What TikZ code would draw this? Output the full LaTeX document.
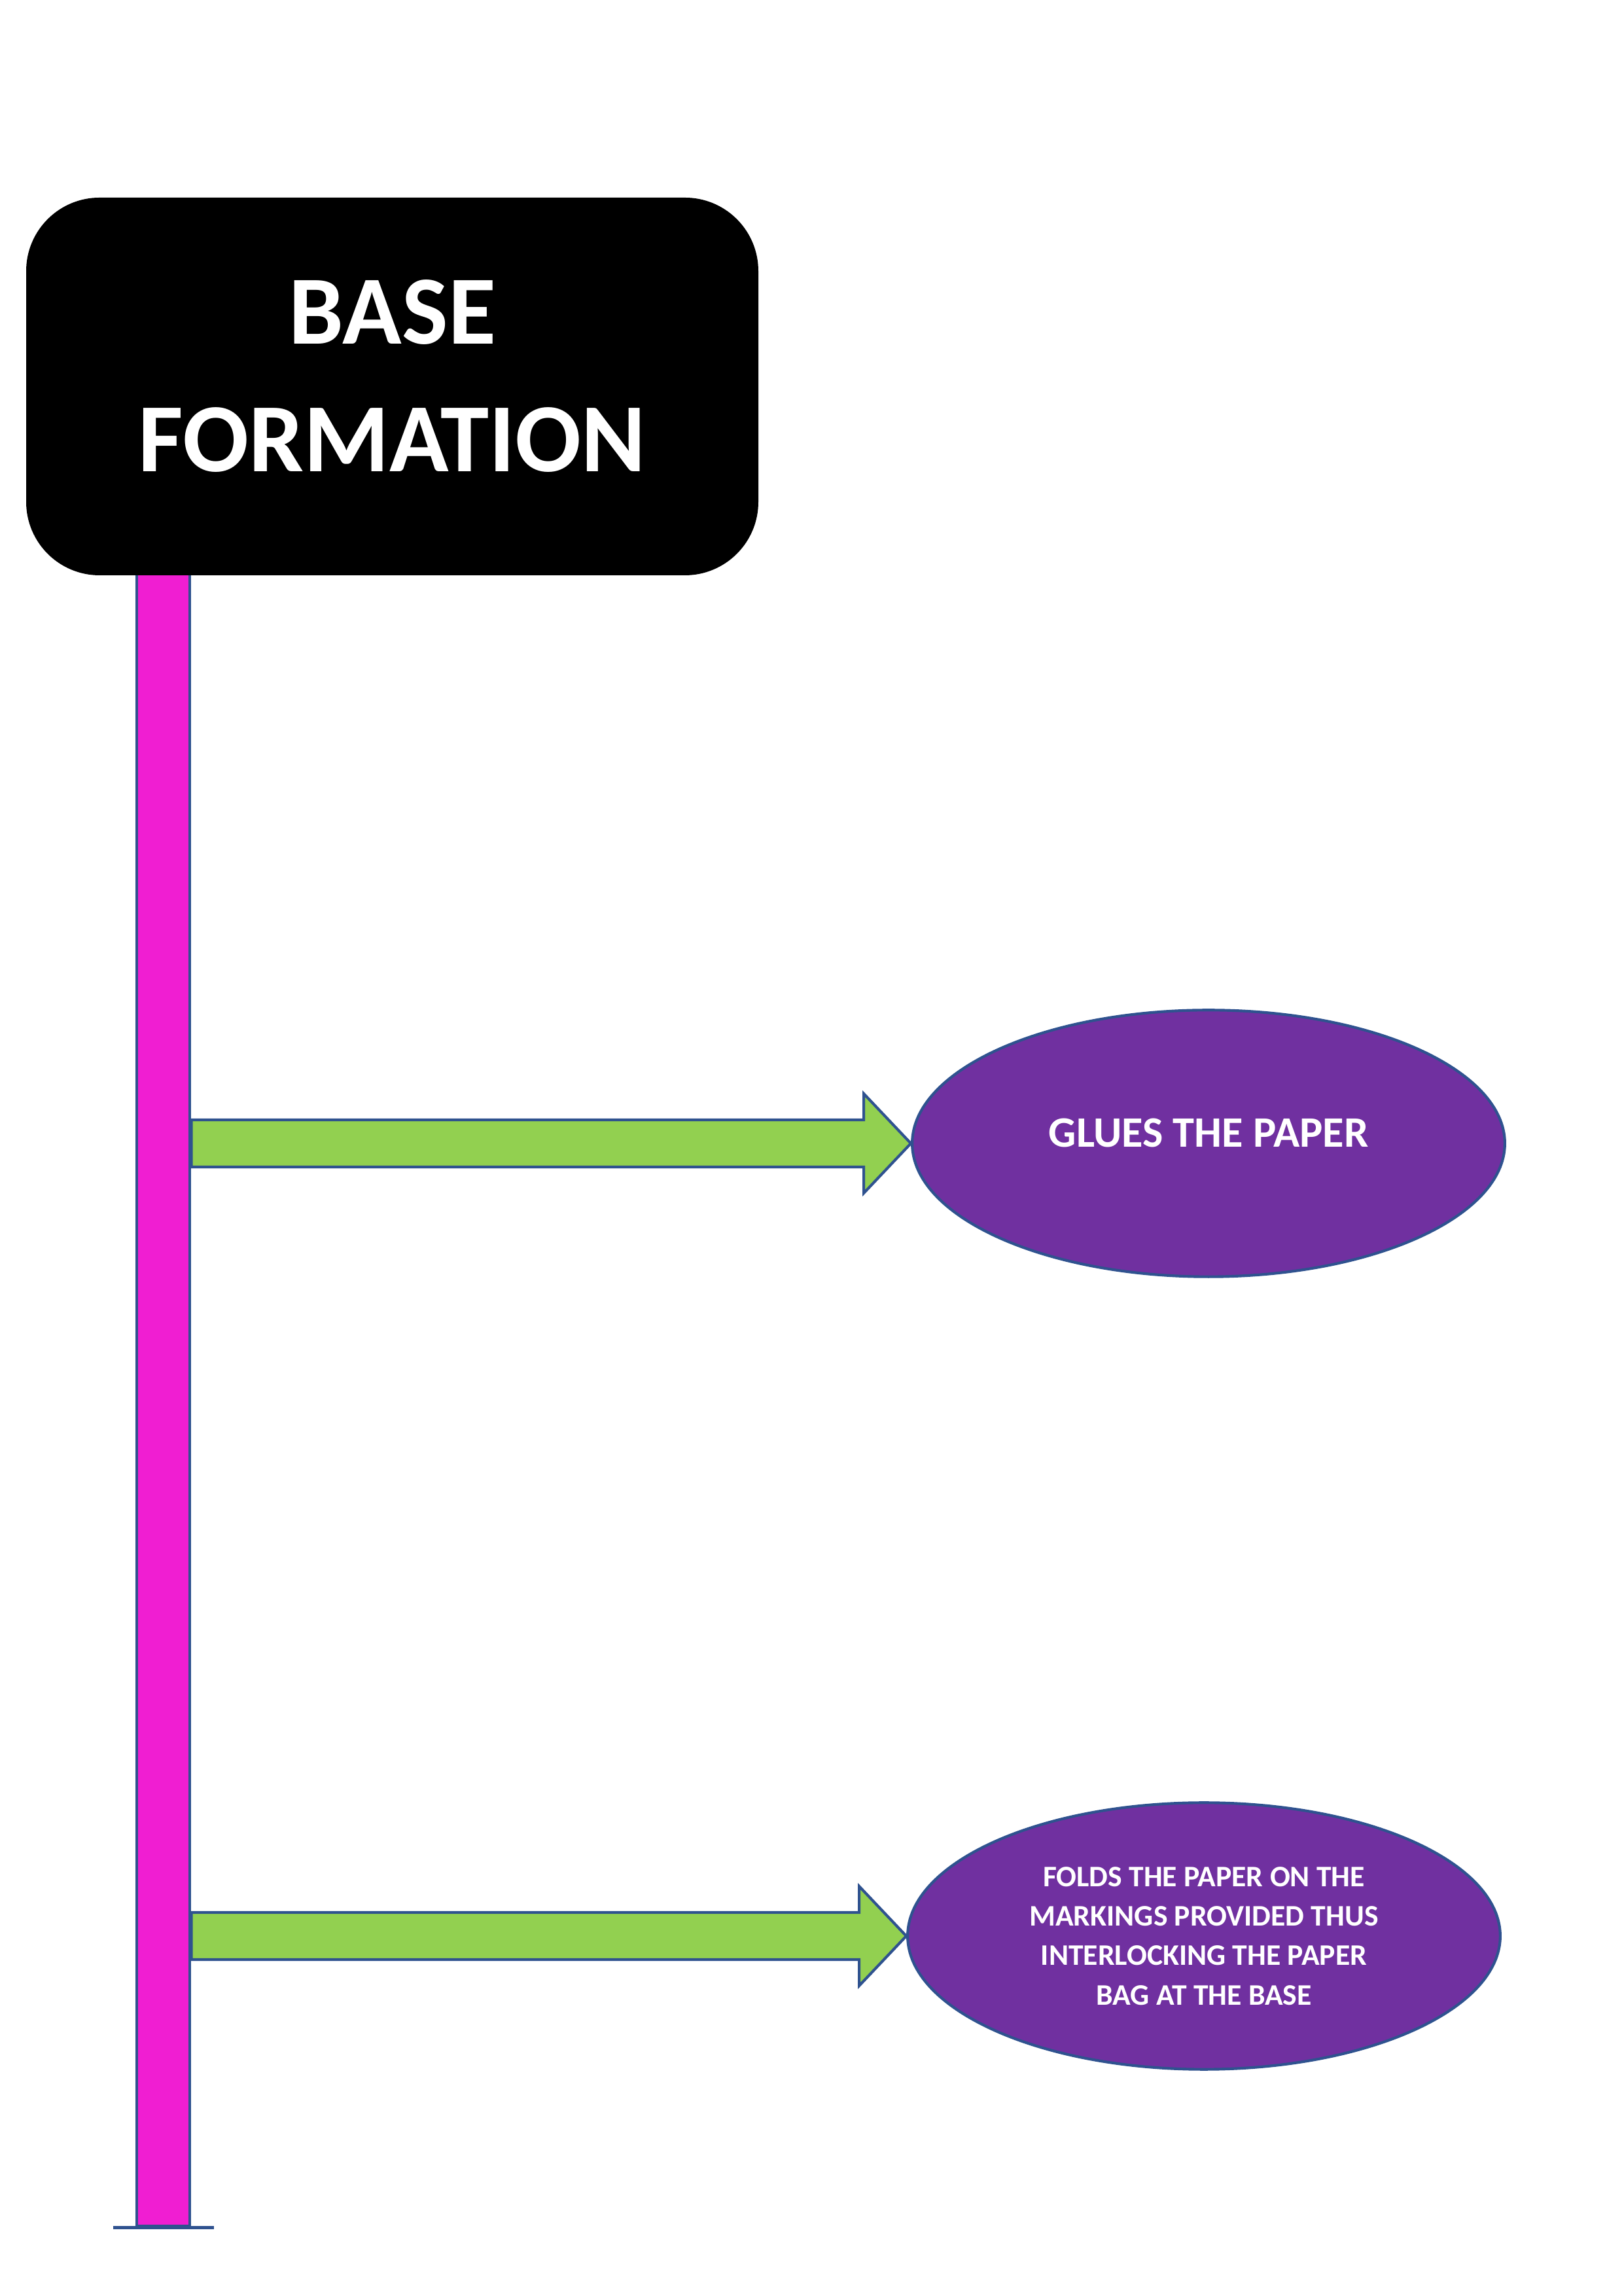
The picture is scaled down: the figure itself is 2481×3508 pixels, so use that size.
\documentclass[tikz,border=0pt]{standalone}
\usepackage{fontspec}
\setmainfont{Carlito}
\usetikzlibrary{calc,fit,shapes.geometric}
\definecolor{Outline}{HTML}{2F528F}
\definecolor{Pink}{HTML}{F01ED2}
\definecolor{Leaf}{HTML}{92D050}
\definecolor{Violet}{HTML}{7030A0}

\tikzset{
  headbox/.style={fill=black,rounded corners=0.95cm,inner sep=0pt,text=white,
    font=\bfseries\fontsize{36}{47}\selectfont},
  polebar/.style={fill=Pink,draw=Outline,line width=1.2pt,inner sep=0pt},
  stepoval/.style={ellipse,fill=Violet,draw=Outline,line width=1pt,inner sep=0pt,
    minimum width=7.67cm,minimum height=3.45cm,text=white,align=center},
  flowarrow/.style={fill=Leaf,draw=Outline,line width=1pt},
}

\newcommand{\flowto}[2]{%
  \draw[flowarrow] ($(#1)+(0,36)$) -- ($(#2)+(-72,36)$) -- ($(#2)+(-72,76)$) -- (#2)
    -- ($(#2)+(-72,-76)$) -- ($(#2)+(-72,-36)$) -- ($(#1)+(0,-36)$) -- cycle;}

\begin{document}
\begin{tikzpicture}[x=0.0084643cm,y=0.0084643cm]
  \useasboundingbox (0,0) rectangle (2481,3508);
  \node[polebar,fit={(209,107) (290,2631)}] (pole) {};
  \draw[Outline,line width=1.2pt] ($(pole.south)+(-77,0)$) -- ($(pole.south)+(77,0)$);
  \node[headbox,fit={(40,2629) (1159,3206)}] (title)
    {\raisebox{-25pt}[\height][\depth]{\begin{tabular}{@{}c@{}}BASE\\FORMATION\end{tabular}}};

  \node[stepoval,text depth=7.6pt,font=\bfseries\fontsize{16}{19}\selectfont] (glue) at (1847,1761) {GLUES THE PAPER};
  \node[stepoval,font=\bfseries\fontsize{11}{14.5}\selectfont] (fold) at (1840,550)
    {FOLDS THE PAPER ON THE\\MARKINGS PROVIDED THUS\\INTERLOCKING THE PAPER\\BAG AT THE BASE};

  \coordinate (gluefoot) at (pole.east |- glue.west);
  \coordinate (foldfoot) at (pole.east |- fold.west);
  \flowto{gluefoot}{glue.west}
  \flowto{foldfoot}{fold.west}
\end{tikzpicture}
\end{document}
